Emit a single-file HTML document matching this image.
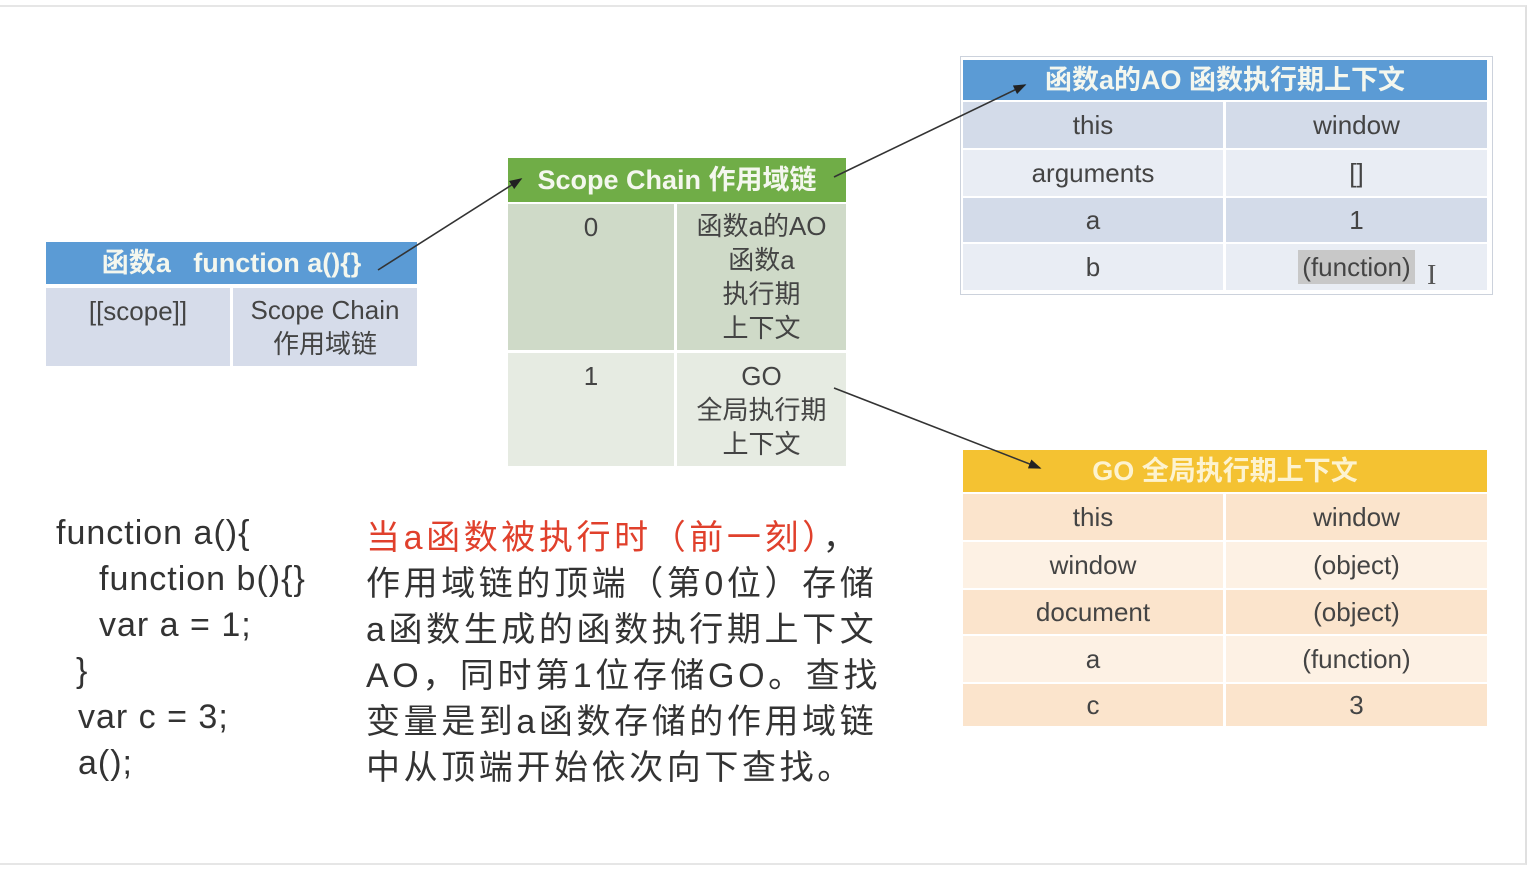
<!DOCTYPE html>
<html><head><meta charset="utf-8"><style>
body{margin:0;width:1530px;height:870px;background:#fff;position:relative;overflow:hidden;font-family:"Liberation Sans","Noto Sans CJK SC",sans-serif;color:#444}
.a{position:absolute;box-sizing:border-box;display:flex;align-items:center;justify-content:center;text-align:center;font-size:26px;line-height:34px}
.h{color:#f4f7ee;font-weight:bold;font-size:27px}
.t{position:absolute;font-size:33px;line-height:46px;white-space:pre;color:#333}
.c{position:absolute;font-size:34px;line-height:46px;white-space:pre;color:#333;letter-spacing:1px}
</style></head><body>
<div style="position:absolute;left:0;top:5px;width:1527px;height:860px;border-top:2px solid #e6e6e6;border-right:2px solid #e0e0e0;border-bottom:2px solid #e6e6e6;box-sizing:border-box"></div>

<div class="a h" style="left:46px;top:242px;width:371px;height:42px;background:#5b9bd5">函数a &nbsp; function a(){}</div>
<div class="a" style="left:46px;top:288px;width:184px;height:78px;background:#d6dcea;align-items:flex-start;padding-top:6px">[[scope]]</div>
<div class="a" style="left:233px;top:288px;width:184px;height:78px;background:#d6dcea">Scope Chain<br>作用域链</div>

<div class="a h" style="left:508px;top:158px;width:338px;height:44px;background:#70ad47">Scope Chain 作用域链</div>
<div class="a" style="left:508px;top:204px;width:166px;height:146px;background:#cfdac8;align-items:flex-start;padding-top:6px">0</div>
<div class="a" style="left:677px;top:204px;width:169px;height:146px;background:#cfdac8">函数a的AO<br>函数a<br>执行期<br>上下文</div>
<div class="a" style="left:508px;top:353px;width:166px;height:113px;background:#e6ebe2;align-items:flex-start;padding-top:6px">1</div>
<div class="a" style="left:677px;top:353px;width:169px;height:113px;background:#e6ebe2">GO<br>全局执行期<br>上下文</div>

<div style="position:absolute;left:960px;top:56px;width:531px;height:237px;border:1px solid #ccd2dc"></div>
<div class="a h" style="left:963px;top:60px;width:524px;height:40px;background:#5b9bd5">函数a的AO 函数执行期上下文</div>
<div class="a" style="left:963px;top:102px;width:260px;height:46px;background:#d3dbe9">this</div>
<div class="a" style="left:1226px;top:102px;width:261px;height:46px;background:#d3dbe9">window</div>
<div class="a" style="left:963px;top:150px;width:260px;height:46px;background:#e9edf4">arguments</div>
<div class="a" style="left:1226px;top:150px;width:261px;height:46px;background:#e9edf4">[]</div>
<div class="a" style="left:963px;top:198px;width:260px;height:44px;background:#d3dbe9">a</div>
<div class="a" style="left:1226px;top:198px;width:261px;height:44px;background:#d3dbe9">1</div>
<div class="a" style="left:963px;top:244px;width:260px;height:46px;background:#e9edf4">b</div>
<div class="a" style="left:1226px;top:244px;width:261px;height:46px;background:#e9edf4"><span style="background:#c8c8c8;padding:0 4px">(function)</span></div>
<div style="position:absolute;left:1427px;top:260px;font-size:28px;color:#555;font-family:'Liberation Serif',serif">I</div>

<div class="a h" style="left:963px;top:450px;width:524px;height:42px;background:#f4c232;color:#fdf3d0">GO 全局执行期上下文</div>
<div class="a" style="left:963px;top:494px;width:260px;height:46px;background:#fbe4cc">this</div>
<div class="a" style="left:1226px;top:494px;width:261px;height:46px;background:#fbe4cc">window</div>
<div class="a" style="left:963px;top:542px;width:260px;height:46px;background:#fdf1e4">window</div>
<div class="a" style="left:1226px;top:542px;width:261px;height:46px;background:#fdf1e4">(object)</div>
<div class="a" style="left:963px;top:590px;width:260px;height:44px;background:#fbe4cc">document</div>
<div class="a" style="left:1226px;top:590px;width:261px;height:44px;background:#fbe4cc">(object)</div>
<div class="a" style="left:963px;top:636px;width:260px;height:46px;background:#fdf1e4">a</div>
<div class="a" style="left:1226px;top:636px;width:261px;height:46px;background:#fdf1e4">(function)</div>
<div class="a" style="left:963px;top:684px;width:260px;height:42px;background:#fbe4cc">c</div>
<div class="a" style="left:1226px;top:684px;width:261px;height:42px;background:#fbe4cc">3</div>

<svg style="position:absolute;left:0;top:0" width="1530" height="870">
<defs><marker id="m" markerWidth="8" markerHeight="8" refX="7" refY="4" orient="auto"><path d="M0,1 L8,4 L0,7z" fill="#222"/></marker></defs>
<g stroke="#333" stroke-width="1.6" fill="none" marker-end="url(#m)">
<line x1="378" y1="270" x2="521" y2="179"/>
<line x1="834" y1="177" x2="1025" y2="85"/>
<line x1="834" y1="388" x2="1040" y2="468"/>
</g></svg>

<div class="c" style="left:56px;top:510px">function a(){</div>
<div class="c" style="left:99px;top:556px">function b(){}</div>
<div class="c" style="left:99px;top:602px">var a = 1;</div>
<div class="c" style="left:76px;top:648px">}</div>
<div class="c" style="left:78px;top:694px">var c = 3;</div>
<div class="c" style="left:78px;top:740px">a();</div>
<div class="t" style="left:366px;top:515px;font-size:34px;letter-spacing:3.6px"><span style="color:#e0402c">当a函数被执行时（前一刻）</span>，
作用域链的顶端（第0位）存储
a函数生成的函数执行期上下文
AO，同时第1位存储GO。查找
变量是到a函数存储的作用域链
中从顶端开始依次向下查找。</div>
</body></html>
